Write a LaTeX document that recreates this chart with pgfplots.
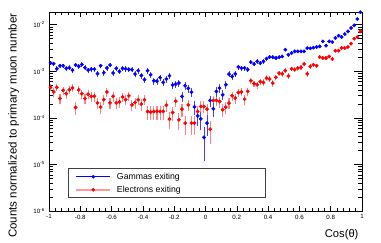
\documentclass[border=0pt]{standalone}
\usepackage{pgfplots}
\pgfplotsset{compat=1.18}
\usepackage{pgfplotstable}
\usepackage{fontspec}
\setmainfont{Liberation Sans}

\pgfplotstableread{
x y ey
-0.99 1.50e-3 1.64e-4
-0.97 1.45e-3 1.62e-4
-0.95 1.13e-3 1.43e-4
-0.93 1.31e-3 1.54e-4
-0.91 1.31e-3 1.54e-4
-0.89 1.15e-3 1.44e-4
-0.87 1.19e-3 1.46e-4
-0.85 1.06e-3 1.38e-4
-0.83 1.36e-3 1.56e-4
-0.81 1.27e-3 1.51e-4
-0.79 1.40e-3 1.59e-4
-0.77 1.19e-3 1.46e-4
-0.75 1.06e-3 1.38e-4
-0.73 1.11e-3 1.41e-4
-0.71 1.11e-3 1.41e-4
-0.69 0.89e-3 1.27e-4
-0.67 1.31e-3 1.54e-4
-0.65 0.93e-3 1.29e-4
-0.63 1.17e-3 1.45e-4
-0.61 1.36e-3 1.56e-4
-0.59 0.92e-3 1.29e-4
-0.57 1.15e-3 1.44e-4
-0.55 0.99e-3 1.34e-4
-0.53 1.15e-3 1.44e-4
-0.51 1.13e-3 1.44e-4
-0.49 1.09e-3 1.39e-4
-0.47 1.08e-3 1.39e-4
-0.45 0.87e-3 1.25e-4
-0.43 1.03e-3 1.36e-4
-0.41 0.81e-3 1.21e-4
-0.39 0.66e-3 1.09e-4
-0.37 1.03e-3 1.36e-4
-0.35 0.84e-3 1.23e-4
-0.33 0.625e-3 1.06e-4
-0.31 0.615e-3 1.05e-4
-0.29 0.73e-3 1.15e-4
-0.27 0.575e-3 1.02e-4
-0.25 0.68e-3 1.11e-4
-0.23 0.80e-3 1.20e-4
-0.21 0.505e-3 0.95e-4
-0.19 0.53e-3 0.98e-4
-0.17 0.557e-3 1.00e-4
-0.15 2.88e-4 7.2e-5
-0.13 4.88e-4 9.4e-5
-0.11 4.30e-4 8.8e-5
-0.09 3.56e-4 8.0e-5
-0.07 1.72e-4 5.6e-5
-0.05 1.10e-4 4.45e-5
-0.03 0.95e-4 4.1e-5
-0.01 0.38e-4 2.6e-5
0.01 0.77e-4 3.7e-5
0.03 2.36e-4 6.5e-5
0.05 1.56e-4 5.3e-5
0.07 3.68e-4 8.1e-5
0.09 4.35e-4 8.9e-5
0.11 3.12e-4 7.5e-5
0.13 5.13e-4 9.6e-5
0.15 0.87e-3 1.25e-4
0.17 0.77e-3 1.18e-4
0.19 0.88e-3 1.26e-4
0.21 1.23e-3 1.49e-4
0.23 1.17e-3 1.45e-4
0.25 1.17e-3 1.45e-4
0.27 1.08e-3 1.39e-4
0.29 1.57e-3 1.68e-4
0.31 1.43e-3 1.60e-4
0.33 1.63e-3 1.71e-4
0.35 1.50e-3 1.64e-4
0.37 1.63e-3 1.71e-4
0.39 1.86e-3 1.83e-4
0.41 2.02e-3 1.91e-4
0.43 2.00e-3 1.90e-4
0.45 1.92e-3 1.86e-4
0.47 2.00e-3 1.90e-4
0.49 2.08e-3 1.94e-4
0.51 2.90e-3 2.29e-4
0.53 2.26e-3 2.02e-4
0.55 2.46e-3 2.10e-4
0.57 2.67e-3 2.19e-4
0.59 2.67e-3 2.19e-4
0.61 2.67e-3 2.19e-4
0.63 2.67e-3 2.19e-4
0.65 3.15e-3 2.38e-4
0.67 3.10e-3 2.36e-4
0.69 3.20e-3 2.40e-4
0.71 3.31e-3 2.44e-4
0.73 3.42e-3 2.48e-4
0.75 4.38e-3 2.81e-4
0.77 3.53e-3 2.52e-4
0.79 4.38e-3 2.81e-4
0.81 4.24e-3 2.76e-4
0.83 5.16e-3 3.05e-4
0.85 5.79e-3 3.23e-4
0.87 5.42e-3 3.12e-4
0.89 6.29e-3 3.37e-4
0.91 7.17e-3 3.59e-4
0.93 8.47e-3 3.91e-4
0.95 9.66e-3 4.17e-4
0.97 1.32e-2 4.87e-4
0.99 1.85e-2 5.77e-4
}\gammatab

\pgfplotstableread{
x y ey
-0.99 4.5e-4 8.2e-5
-0.97 3.6e-4 7.3e-5
-0.95 4.5e-4 8.2e-5
-0.93 2.6e-4 6.2e-5
-0.91 3.9e-4 7.6e-5
-0.89 3.3e-4 7.0e-5
-0.87 4.0e-4 7.7e-5
-0.85 4.4e-4 8.1e-5
-0.83 1.67e-4 5.0e-5
-0.81 4.0e-4 7.7e-5
-0.79 3.3e-4 7.0e-5
-0.77 2.6e-4 6.2e-5
-0.75 3.2e-4 6.9e-5
-0.73 2.9e-4 6.6e-5
-0.71 2.9e-4 6.6e-5
-0.69 2.1e-4 5.6e-5
-0.67 1.7e-4 5.1e-5
-0.65 2.45e-4 6.1e-5
-0.63 3.6e-4 7.3e-5
-0.61 2.1e-4 5.6e-5
-0.59 2.9e-4 6.6e-5
-0.57 2.1e-4 5.6e-5
-0.55 2.2e-4 5.7e-5
-0.53 2.8e-4 6.5e-5
-0.51 2.45e-4 6.1e-5
-0.49 2.97e-4 6.7e-5
-0.47 1.9e-4 5.3e-5
-0.45 2.14e-4 5.7e-5
-0.43 2.44e-4 6.0e-5
-0.41 1.97e-4 5.4e-5
-0.39 2.44e-4 6.0e-5
-0.37 1.37e-4 4.5e-5
-0.35 1.33e-4 4.5e-5
-0.33 1.37e-4 4.5e-5
-0.31 1.37e-4 4.5e-5
-0.29 1.37e-4 4.5e-5
-0.27 1.37e-4 4.5e-5
-0.25 1.87e-4 5.3e-5
-0.23 0.935e-4 3.7e-5
-0.21 1.30e-4 4.4e-5
-0.19 2.28e-4 5.8e-5
-0.17 0.905e-4 3.7e-5
-0.15 1.54e-4 4.8e-5
-0.13 0.77e-4 3.4e-5
-0.11 1.9e-4 5.3e-5
-0.09 0.77e-4 3.4e-5
-0.07 0.77e-4 3.4e-5
-0.05 1.37e-4 4.5e-5
-0.03 1.75e-4 5.1e-5
-0.01 1.75e-4 5.1e-5
0.01 1.54e-4 4.8e-5
0.03 0.57e-4 2.9e-5
0.05 2.36e-4 5.9e-5
0.07 2.36e-4 5.9e-5
0.09 2.24e-4 5.8e-5
0.11 1.49e-4 4.7e-5
0.13 1.70e-4 5.1e-5
0.15 2.07e-4 5.6e-5
0.17 2.97e-4 6.7e-5
0.19 2.65e-4 6.3e-5
0.21 3.5e-4 7.2e-5
0.23 3.62e-4 7.4e-5
0.25 2.52e-4 6.1e-5
0.27 3.68e-4 7.4e-5
0.29 6.25e-4 9.7e-5
0.31 5.4e-4 9.0e-5
0.33 5.13e-4 8.8e-5
0.35 6.0e-4 9.5e-5
0.37 5.75e-4 9.3e-5
0.39 7.1e-4 1.03e-4
0.41 6.8e-4 1.01e-4
0.43 5.57e-4 9.1e-5
0.45 7.4e-4 1.05e-4
0.47 9.1e-4 1.17e-4
0.49 8.8e-4 1.15e-4
0.51 1.03e-3 1.24e-4
0.53 0.79e-3 1.09e-4
0.55 1.13e-3 1.30e-4
0.57 1.08e-3 1.27e-4
0.59 1.17e-3 1.33e-4
0.61 1.21e-3 1.35e-4
0.63 1.43e-3 1.46e-4
0.65 0.88e-3 1.15e-4
0.67 1.27e-3 1.38e-4
0.69 1.38e-3 1.44e-4
0.71 1.31e-3 1.40e-4
0.73 2.02e-3 1.74e-4
0.75 1.92e-3 1.70e-4
0.77 1.92e-3 1.70e-4
0.79 2.08e-3 1.77e-4
0.81 1.83e-3 1.66e-4
0.83 2.76e-3 2.03e-4
0.85 2.76e-3 2.03e-4
0.87 3.15e-3 2.17e-4
0.89 3.15e-3 2.17e-4
0.91 3.31e-3 2.23e-4
0.93 3.9e-3 2.42e-4
0.95 5.0e-3 2.74e-4
0.97 5.42e-3 2.85e-4
0.99 7.17e-3 3.28e-4
}\electrontab

\begin{document}
\begin{tikzpicture}
\useasboundingbox (0,0) rectangle (381pt,242pt);
\begin{axis}[
  at={(49pt,31pt)}, anchor=south west,
  scale only axis, width=313pt, height=199pt,
  xmin=-1, xmax=1,
  ymode=log, ymin=1e-6, ymax=1.87e-2,
  xtick={-1,-0.8,-0.6,-0.4,-0.2,0,0.2,0.4,0.6,0.8,1},
  xticklabels={-1,-0.8,-0.6,-0.4,-0.2,0,0.2,0.4,0.6,0.8,1},
  minor x tick num=4,
  ytick={1e-6,1e-5,1e-4,1e-3,1e-2},
  yticklabels={10\raisebox{2.6pt}{\fontsize{4.4}{5}\selectfont -6},
               10\raisebox{2.6pt}{\fontsize{4.4}{5}\selectfont -5},
               10\raisebox{2.6pt}{\fontsize{4.4}{5}\selectfont -4},
               10\raisebox{2.6pt}{\fontsize{4.4}{5}\selectfont -3},
               10\raisebox{2.6pt}{\fontsize{4.4}{5}\selectfont -2}},
  minor ytick={2e-6,3e-6,4e-6,5e-6,6e-6,7e-6,8e-6,9e-6,
               2e-5,3e-5,4e-5,5e-5,6e-5,7e-5,8e-5,9e-5,
               2e-4,3e-4,4e-4,5e-4,6e-4,7e-4,8e-4,9e-4,
               2e-3,3e-3,4e-3,5e-3,6e-3,7e-3,8e-3,9e-3},
  tick align=inside,
  xtick style={/pgfplots/major tick length=5.5pt, /pgfplots/minor tick length=2.8pt, line width=0.5pt, black},
  ytick style={/pgfplots/major tick length=8pt, /pgfplots/minor tick length=4pt, line width=0.5pt, black},
  axis line style={line width=0.7pt, black},
  ticklabel style={font=\fontsize{6.2}{7}\selectfont},
  xticklabel style={inner sep=0pt, yshift=-3.5pt},
  yticklabel style={inner sep=0pt, xshift=-4.5pt},
  every axis y label/.style={at={(rel axis cs:0,1)}, xshift=-32.3pt, yshift=2pt, rotate=90, anchor=base east, font=\fontsize{11.5}{13}\selectfont},
  every axis x label/.style={at={(rel axis cs:1,0)}, yshift=-26pt, anchor=base east, font=\fontsize{11.2}{13}\selectfont},
  ylabel={Counts normalized to primary muon number},
  xlabel={Cos(θ)},
  legend image code/.code={\draw[mark repeat=2,mark phase=2,#1] plot coordinates {(0pt,0pt) (17pt,0pt) (34pt,0pt)};},
  legend cell align=left,
  legend style={at={(rel axis cs:0.0607,0.0653)}, anchor=south west, draw=black!75, line width=0.6pt, fill=white,
    inner xsep=6.7pt, inner ysep=1.5pt, row sep=0pt, font=\fontsize{8.7}{10}\selectfont,
    nodes={inner xsep=2pt, inner ysep=2pt, text height=7pt, text depth=2pt}},
]
\addlegendimage{blue, line width=0.6pt, mark=*, mark size=1.6pt, mark options={draw=blue, fill=blue, line width=0.4pt}}
\addlegendentry{\hspace{3.6pt}\makebox[140pt][l]{Gammas exiting}}
\addlegendimage{red!40, line width=2.4pt, mark=*, mark size=1.6pt, mark options={draw=red, fill=red, line width=0.4pt}}
\addlegendentry{\hspace{3.6pt}\makebox[140pt][l]{Electrons exiting}}

\addplot[forget plot, only marks, mark=*, mark size=1.7pt, mark options={draw=red, fill=red},
  error bars/.cd, y dir=both, y explicit, error mark=none,
  error bar style={red!50, line width=1.1pt}]
  table[x=x, y=y, y error=ey] {\electrontab};
\addplot[forget plot, only marks, mark=*, mark size=1.7pt, mark options={draw=blue, fill=blue},
  error bars/.cd, y dir=both, y explicit, error mark=none,
  error bar style={blue!75, line width=0.8pt}]
  table[x=x, y=y, y error=ey] {\gammatab};
\end{axis}
\end{tikzpicture}
\end{document}
